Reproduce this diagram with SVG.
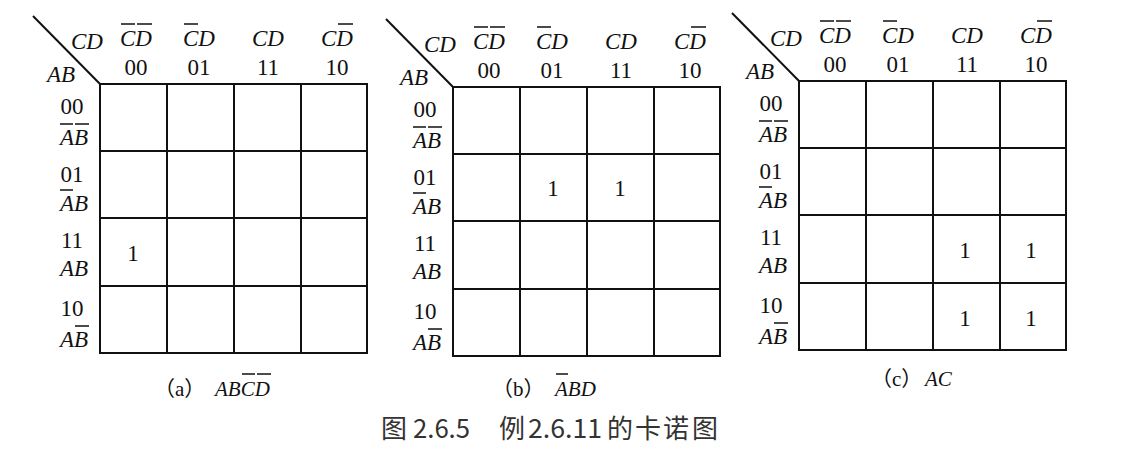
<svg xmlns="http://www.w3.org/2000/svg" width="1121" height="450" viewBox="0 0 1121 450">
<style>
.bg{fill:#fff}
.g{fill:none;stroke:#111;stroke-width:2}
.ov{fill:none;stroke:#111;stroke-width:1.5}
.t{font-family:"Liberation Serif",serif;font-size:23px;fill:#111}
.i{font-style:italic}
.m{text-anchor:middle}
.cap{font-family:"Liberation Serif","Noto Sans CJK SC",serif;font-size:21px;fill:#111}
.fig{font-family:"Noto Sans CJK SC",sans-serif;font-size:26px;fill:#333}
</style>
<rect class="bg" x="0" y="0" width="1121" height="450"/>
<g id="connectors"></g>

<g id="panel-a" transform="translate(100,84)">
<path class="g" d="M0 0H267V269H0Z M67 0V269 M134 0V269 M201 0V269 M0 67H267 M0 134H267 M0 202H267"/>
<line class="g" x1="-67" y1="-68" x2="0" y2="0"/>
<text class="t i" x="-29" y="-35">CD</text>
<text class="t i" x="-53" y="-2">AB</text>
<text class="t i" x="20" y="-38">CD</text>
<text class="t i" x="83" y="-38">CD</text>
<text class="t i" x="152" y="-38">CD</text>
<text class="t i" x="221" y="-38">CD</text>
<text class="t m" x="36" y="-9">00</text>
<text class="t m" x="99" y="-9">01</text>
<text class="t m" x="168" y="-9">11</text>
<text class="t m" x="237" y="-9">10</text>
<text class="t m" x="-28" y="30">00</text>
<text class="t m" x="-28" y="98">01</text>
<text class="t m" x="-28" y="164">11</text>
<text class="t m" x="-28" y="232">10</text>
<text class="t i" x="-40" y="61">AB</text>
<text class="t i" x="-40" y="127">AB</text>
<text class="t i" x="-40" y="192">AB</text>
<text class="t i" x="-40" y="263">AB</text>
<path class="ov" d="M21 -60H35 M37 -60H52 M84 -60H98 M238 -60H253 M-40 40H-27 M-25 40H-11 M-40 106H-27 M-25 242H-11"/>
<text class="t m" x="33" y="177">1</text>
</g>

<g id="panel-b" transform="translate(453,87)">
<path class="g" d="M0 0H267V269H0Z M67 0V269 M134 0V269 M201 0V269 M0 67H267 M0 134H267 M0 202H267"/>
<line class="g" x1="-67" y1="-68" x2="0" y2="0"/>
<text class="t i" x="-29" y="-35">CD</text>
<text class="t i" x="-53" y="-2">AB</text>
<text class="t i" x="20" y="-38">CD</text>
<text class="t i" x="83" y="-38">CD</text>
<text class="t i" x="152" y="-38">CD</text>
<text class="t i" x="221" y="-38">CD</text>
<text class="t m" x="36" y="-9">00</text>
<text class="t m" x="99" y="-9">01</text>
<text class="t m" x="168" y="-9">11</text>
<text class="t m" x="237" y="-9">10</text>
<text class="t m" x="-28" y="30">00</text>
<text class="t m" x="-28" y="98">01</text>
<text class="t m" x="-28" y="164">11</text>
<text class="t m" x="-28" y="232">10</text>
<text class="t i" x="-40" y="61">AB</text>
<text class="t i" x="-40" y="127">AB</text>
<text class="t i" x="-40" y="192">AB</text>
<text class="t i" x="-40" y="263">AB</text>
<path class="ov" d="M21 -60H35 M37 -60H52 M84 -60H98 M238 -60H253 M-40 40H-27 M-25 40H-11 M-40 106H-27 M-25 242H-11"/>
<text class="t m" x="100" y="109">1</text>
<text class="t m" x="167" y="109">1</text>
</g>

<g id="panel-c" transform="translate(799,81)">
<path class="g" d="M0 0H267V269H0Z M67 0V269 M134 0V269 M201 0V269 M0 67H267 M0 134H267 M0 202H267"/>
<line class="g" x1="-67" y1="-68" x2="0" y2="0"/>
<text class="t i" x="-29" y="-35">CD</text>
<text class="t i" x="-53" y="-2">AB</text>
<text class="t i" x="20" y="-38">CD</text>
<text class="t i" x="83" y="-38">CD</text>
<text class="t i" x="152" y="-38">CD</text>
<text class="t i" x="221" y="-38">CD</text>
<text class="t m" x="36" y="-9">00</text>
<text class="t m" x="99" y="-9">01</text>
<text class="t m" x="168" y="-9">11</text>
<text class="t m" x="237" y="-9">10</text>
<text class="t m" x="-28" y="30">00</text>
<text class="t m" x="-28" y="98">01</text>
<text class="t m" x="-28" y="164">11</text>
<text class="t m" x="-28" y="232">10</text>
<text class="t i" x="-40" y="61">AB</text>
<text class="t i" x="-40" y="127">AB</text>
<text class="t i" x="-40" y="192">AB</text>
<text class="t i" x="-40" y="263">AB</text>
<path class="ov" d="M21 -60H35 M37 -60H52 M84 -60H98 M238 -60H253 M-40 40H-27 M-25 40H-11 M-40 106H-27 M-25 242H-11"/>
<text class="t m" x="166" y="177">1</text>
<text class="t m" x="232" y="177">1</text>
<text class="t m" x="166" y="245">1</text>
<text class="t m" x="232" y="245">1</text>
</g>

<g id="caption-a">
<text class="cap" x="154" y="396">（a）<tspan class="i" x="215">ABCD</tspan></text>
<path class="ov" d="M242 374H255 M257 374H271"/>
</g>
<g id="caption-b">
<text class="cap" x="492" y="396">（b）<tspan class="i" x="555">ABD</tspan></text>
<path class="ov" d="M556 374H568"/>
</g>
<g id="caption-c">
<text class="cap" x="871" y="386">（c）<tspan class="i" x="925">AC</tspan></text>
</g>
<g id="figure-title">
<text class="fig" y="438"><tspan x="381">图</tspan><tspan x="413" textLength="57" lengthAdjust="spacingAndGlyphs">2.6.5</tspan><tspan x="499">例</tspan><tspan x="528" textLength="74" lengthAdjust="spacingAndGlyphs">2.6.11</tspan><tspan x="607">的</tspan><tspan x="635">卡</tspan><tspan x="663">诺</tspan><tspan x="692">图</tspan></text>
</g>
</svg>
